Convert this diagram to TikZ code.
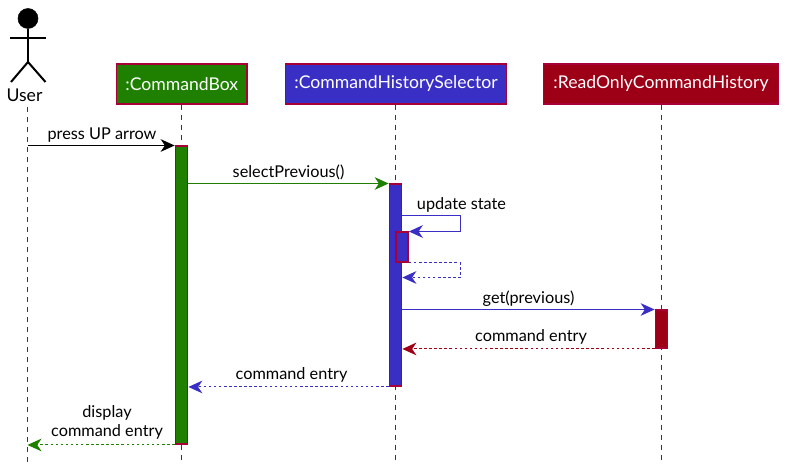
\documentclass[tikz,border=0pt]{standalone}
\usepackage{fontspec}
\setmainfont{Lato}
\usetikzlibrary{arrows.meta,positioning,calc}
\definecolor{border}{HTML}{A80036}
\definecolor{boxgreen}{HTML}{1F8000}
\definecolor{boxblue}{HTML}{3A2FC4}
\definecolor{boxred}{HTML}{9D0016}
\tikzset{
  head/.style={draw=border,line width=1.1pt,text=white,minimum height=30pt,inner sep=0pt,font=\fontsize{13.2}{15}\selectfont},
  lifeline/.style={draw=border,line width=1pt,dash pattern=on 3.75pt off 3.75pt},
  actbar/.style={draw=border,line width=1.1pt,minimum width=9.2pt,inner sep=0pt,anchor=north},
  msg/.style={line width=0.8pt,-{Stealth[inset=3.2pt,length=10.5pt,width=9.5pt]}},
  retmsg/.style={msg,dash pattern=on 1.9pt off 1.9pt},
  msglabel/.style={inner sep=0pt,font=\fontsize{12.2}{14.5}\selectfont,align=center},
  limb/.style={line width=1.5pt}
}
\begin{document}
\begin{tikzpicture}[x=0.75pt,y=-0.75pt]
\useasboundingbox (0,0) rectangle (785,473);
% actor
\node[draw,fill=black,circle,minimum size=15pt,inner sep=0pt] (userhead) at (28,18.5) {};
\coordinate (userhip) at (28,62);
\coordinate (userla) at (10,38);
\coordinate (userra) at (45.5,38);
\coordinate (userll) at (11,82);
\coordinate (userrl) at (45.5,82);
\draw[limb] (userhead) -- (userhip);
\draw[limb] (userla) -- (userra);
\draw[limb] (userll) -- (userhip) -- (userrl);
\node[msglabel,font=\fontsize{13.2}{15}\selectfont] (user) at (24.5,95) {User};
% participants
\node[head,fill=boxgreen,minimum width=98pt] (cmdbox) at (181.75,84) {:CommandBox};
\node[head,fill=boxblue,minimum width=165.5pt] (selector) at (396,84) {:CommandHistorySelector};
\node[head,fill=boxred,minimum width=176.5pt] (history) at (661,84) {:ReadOnlyCommandHistory};
% lifelines
\coordinate (userend) at (27.5,462);
\coordinate (userstart) at (27.5,107);
\coordinate (cmdend) at (181.5,462);
\coordinate (selend) at (395.5,462);
\coordinate (histend) at (661.5,462);
\draw[lifeline] (userstart) -- (userend);
\draw[lifeline] (cmdend |- cmdbox.south) -- (cmdend);
\draw[lifeline] (selend |- selector.south) -- (selend);
\draw[lifeline] (histend |- history.south) -- (histend);
% activations
\node[actbar,fill=boxgreen,minimum height=223.5pt] (cmdact) at (181.5,145.5) {};
\node[actbar,fill=boxblue,minimum height=151.5pt] (selact) at (395.5,183.5) {};
\node[actbar,fill=boxblue,minimum height=22.5pt] (selinner) at (402,231.5) {};
\node[actbar,fill=boxred,minimum height=28.5pt] (histact) at (661.5,309.5) {};
% messages
\coordinate (userpress) at (userstart |- cmdact.north);
\draw[msg,black,line width=1pt] (userpress) -- (cmdact.north west);
\node[msglabel] (presslabel) at (102,135) {press UP arrow};
\draw[msg,boxgreen] (cmdact.east |- selact.north) -- (selact.north west);
\node[msglabel] (selectlabel) at (288.5,172.5) {selectPrevious()};
\coordinate (loopa) at (selact.east |- 0,215.5);
\coordinate (loopb) at (460.5,215.5);
\coordinate (loopc) at (loopb |- selinner.north);
\draw[msg,boxblue] (loopa) -- (loopb) -- (loopc) -- (selinner.north east);
\node[msglabel] (updatelabel) at (461.5,204.5) {update state};
\coordinate (backa) at (loopb |- selinner.south);
\coordinate (backb) at (460.5,277.5);
\coordinate (backc) at (selact.east |- backb);
\draw[retmsg,boxblue] (selinner.south east) -- (backa) -- (backb) -- (backc);
\draw[msg,boxblue] (selact.east |- histact.north) -- (histact.north west);
\node[msglabel] (getlabel) at (528.5,298.5) {get(previous)};
\draw[retmsg,boxred] (histact.south west) -- (selact.east |- histact.south);
\node[msglabel] (entrylabela) at (531,336.5) {command entry};
\draw[retmsg,boxblue] (selact.south west) -- (cmdact.east |- selact.south);
\node[msglabel] (entrylabelb) at (291.5,374.5) {command entry};
\draw[retmsg,boxgreen] (cmdact.south west) -- (userstart |- cmdact.south);
\node[msglabel] (displaylabel) at (107,422.5) {display\\command entry};
\end{tikzpicture}
\end{document}
